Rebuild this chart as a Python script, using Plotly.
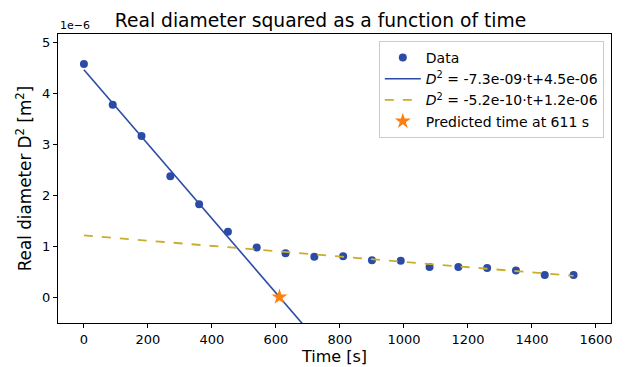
import plotly.graph_objects as go

# Data (diameter squared in units of 1e-6 m^2)
time_s = [0, 90, 180, 270, 360, 450, 540, 630, 720, 810, 900, 990, 1080, 1170, 1260, 1350, 1440, 1530]
d2_e6 = [4.57, 3.77, 3.16, 2.37, 1.82, 1.28, 0.97, 0.86, 0.79, 0.80, 0.72, 0.71, 0.59, 0.59, 0.57, 0.52, 0.43, 0.43]

# Fit coefficients (slope per s, intercept), in 1e-6 units
fit1_slope, fit1_intercept = -7.3e-3, 4.46
fit2_slope, fit2_intercept = -5.2e-4, 1.21
fit_t = [0, 1530]
pred_time = [611]
pred_val = [0]

blue = "#2b4ba6"
gold = "#c9ad2e"
orange = "#ff7f0e"
font = "DejaVu Sans"

fig = go.Figure()
fig.add_trace(go.Scatter(x=time_s, y=d2_e6, mode="markers", name="Data",
                         marker=dict(color=blue, size=8)))
fig.add_trace(go.Scatter(x=fit_t, y=[fit1_slope * t + fit1_intercept for t in fit_t], mode="lines",
                         name="<i>D</i><sup>2</sup> = -7.3e-09·t+4.5e-06",
                         line=dict(color=blue, width=1.6)))
fig.add_trace(go.Scatter(x=fit_t, y=[fit2_slope * t + fit2_intercept for t in fit_t], mode="lines",
                         name="<i>D</i><sup>2</sup> = -5.2e-10·t+1.2e-06",
                         line=dict(color=gold, width=1.8, dash="dash")))
fig.add_trace(go.Scatter(x=pred_time, y=pred_val, mode="markers",
                         name="Predicted time at 611 s",
                         marker=dict(color=orange, size=12, symbol="star")))

fig.update_layout(
    width=641, height=367,
    paper_bgcolor="white", plot_bgcolor="white",
    font=dict(family=font, color="black", size=13),
    margin=dict(l=58, r=30, t=34, b=44, autoexpand=False),
    title=dict(text="Real diameter squared as a function of time", x=0.5, xanchor="center",
               xref="container", y=0.945, yref="container", yanchor="middle", font=dict(size=18.7)),
    showlegend=True,
    legend=dict(x=0.987, y=0.976, xanchor="right", yanchor="top",
                bgcolor="rgba(255,255,255,0.8)", bordercolor="#cccccc", borderwidth=1,
                font=dict(size=14), tracegroupgap=0, itemwidth=36),
    xaxis=dict(range=[-81, 1647], tickvals=[0, 200, 400, 600, 800, 1000, 1200, 1400, 1600],
               automargin=False,
               showgrid=False, zeroline=False, showline=True, linecolor="black", linewidth=1,
               mirror=True, ticks="outside", ticklen=4, tickcolor="black",
               tickfont=dict(size=13),
               title=dict(text="Time [s]", font=dict(size=16), standoff=4)),
    yaxis=dict(range=[-0.51, 5.16], tickvals=[0, 1, 2, 3, 4, 5],
               automargin=False,
               showgrid=False, zeroline=False, showline=True, linecolor="black", linewidth=1,
               mirror=True, ticks="outside", ticklen=4, tickcolor="black",
               tickfont=dict(size=13),
               title=dict(text="Real diameter D<sup>2</sup> [m<sup>2</sup>]", font=dict(size=16.8), standoff=6)),
    annotations=[dict(text="1e\u22126", xref="paper", yref="paper", x=0, y=1.0, xanchor="left",
                      yanchor="bottom", showarrow=False, font=dict(size=11), yshift=0)],
)

fig.write_html("out.html", config={"displayModeBar": False},
               post_script="document.body.style.margin='0';document.body.style.overflow='hidden';")
